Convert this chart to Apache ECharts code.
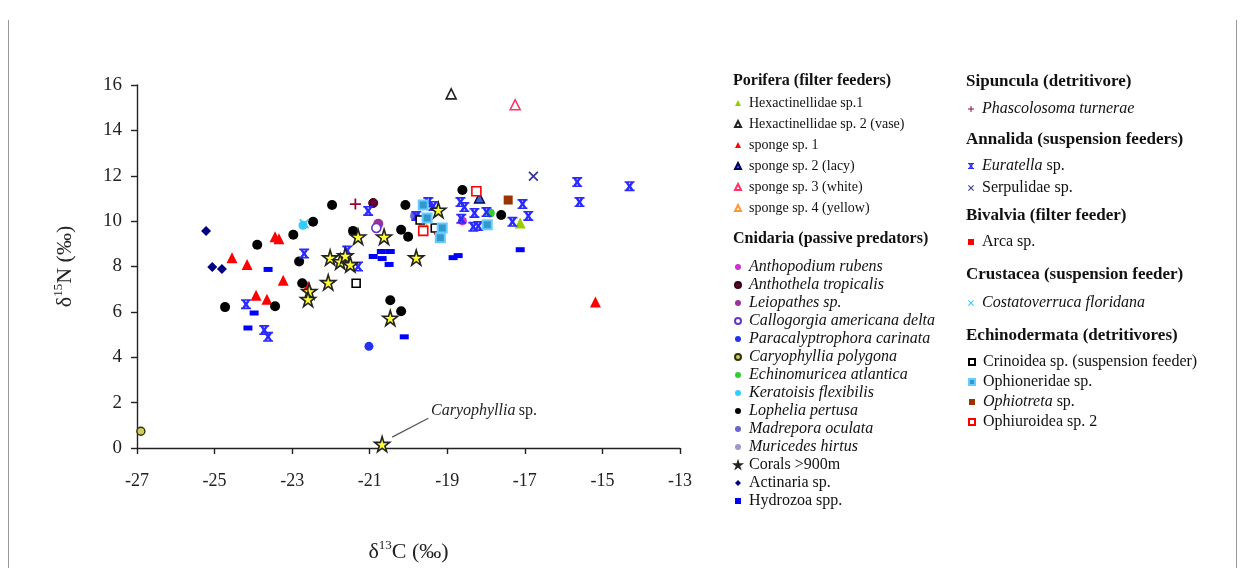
<!DOCTYPE html>
<html><head><meta charset="utf-8">
<script src="https://cdn.jsdelivr.net/npm/echarts@6/dist/echarts.min.js"></script>
<style>html,body{margin:0;padding:0;background:#fff}#c{width:1243px;height:568px}</style>
</head><body><div id="c"></div>
<script>
// ---- Data (δ13C, δ15N) ----
const hexSp1 = [[-17.12, 9.92]];
const hexSp2 = [[-18.90, 15.61]];
const sponge1 = [[-24.55, 8.39], [-24.16, 8.09], [-23.93, 6.73], [-23.65, 6.56], [-23.44, 9.31], [-23.34, 9.22], [-23.23, 7.39], [-22.59, 7.13], [-15.18, 6.43]];
const sponge2 = [[-18.17, 11.02]];
const sponge3 = [[-17.25, 15.13]];
const sponge4 = [[-19.62, 9.97]];
const anthopodium = [[-18.61, 10.01]];
const anthothela = [[-20.91, 10.80]];
const leiopathes = [[-20.78, 9.88]];
const callogorgia = [[-20.83, 9.70]];
const paracalyp = [[-21.02, 4.48]];
const caryPolygona = [[-26.90, 0.74]];
const echinomuricea = [[-17.89, 10.36]];
const keratoisis = [[-22.72, 9.82]];
const lophelia = [[-24.73, 6.21], [-23.90, 8.96], [-23.44, 6.25], [-22.97, 9.40], [-22.82, 8.22], [-22.74, 7.26], [-22.46, 9.97], [-21.97, 10.71], [-20.47, 6.51], [-20.19, 6.03], [-21.43, 9.57], [-20.08, 10.71], [-20.19, 9.62], [-20.01, 9.31], [-18.61, 11.37], [-17.61, 10.27]];
const madrepora = [[-19.83, 10.23]];
const muricedes = [];
const corals = [[-22.02, 8.39], [-21.76, 8.22], [-21.63, 8.48], [-21.50, 8.09], [-22.07, 7.30], [-22.56, 6.91], [-22.59, 6.56], [-19.80, 8.39], [-20.47, 5.73], [-20.68, 0.17], [-21.30, 9.31], [-20.63, 9.31], [-19.23, 10.49]];
const actinaria = [[-25.22, 9.57], [-25.06, 7.98], [-24.81, 7.89]];
const hydrozoa = [[-23.62, 7.87], [-23.98, 5.95], [-24.14, 5.29], [-20.91, 8.44], [-20.70, 8.66], [-20.47, 8.66], [-20.68, 8.35], [-20.50, 8.09], [-20.11, 4.90], [-18.85, 8.39], [-18.72, 8.48], [-17.12, 8.74]];
const phascolosoma = [[-21.37, 10.75]];
const euratella = [[-22.69, 8.57], [-24.19, 6.34], [-23.72, 5.20], [-23.62, 4.90], [-21.58, 8.70], [-21.30, 8.00], [-21.04, 10.45], [-19.80, 10.23], [-19.49, 10.84], [-19.36, 10.67], [-18.66, 10.84], [-18.56, 10.62], [-18.30, 10.36], [-17.99, 10.40], [-18.64, 10.10], [-18.33, 9.75], [-18.20, 9.79], [-17.32, 9.97], [-17.06, 10.75], [-16.91, 10.23], [-15.65, 11.72], [-15.59, 10.84], [-14.30, 11.54]];
const serpulidae = [[-16.78, 11.98]];
const arca = [[-19.23, 9.49]];
const costatoverruca = [[-22.69, 9.88]];
const crinoidea = [[-19.31, 9.70], [-19.70, 10.05], [-21.35, 7.26]];
const ophioneridae = [[-19.62, 10.71], [-19.52, 10.14], [-19.18, 9.27], [-17.97, 9.84], [-19.13, 9.70]];
const ophiotreta = [[-17.43, 10.93]];
const ophiuroidea2 = [[-19.62, 9.57], [-18.25, 11.32]];

const xTicks = [-27, -25, -23, -21, -19, -17, -15, -13];
const yTicks = [0, 2, 4, 6, 8, 10, 12, 14, 16];
const annotationLine = [[-20.42, 0.48], [-19.49, 1.31]];
const annotationText = [-19.42, 1.62];

const groupPorifera = ['Hexactinellidae sp.1', 'Hexactinellidae sp. 2 (vase)', 'sponge sp. 1', 'sponge sp. 2 (lacy)', 'sponge sp. 3 (white)', 'sponge sp. 4 (yellow)'];
const groupCnidaria = ['Anthopodium rubens', 'Anthothela tropicalis', 'Leiopathes sp.', 'Callogorgia americana delta', 'Paracalyptrophora carinata', 'Caryophyllia polygona', 'Echinomuricea atlantica', 'Keratoisis flexibilis', 'Lophelia pertusa', 'Madrepora oculata', 'Muricedes hirtus', 'Corals >900m', 'Actinaria sp.', 'Hydrozoa spp.'];
const groupSipuncula = ['Phascolosoma turnerae'];
const groupAnnalida = ['Euratella sp.', 'Serpulidae sp.'];
const groupBivalvia = ['Arca sp.'];
const groupCrustacea = ['Costatoverruca floridana'];
const groupEchino = ['Crinoidea sp. (suspension feeder)', 'Ophioneridae sp.', 'Ophiotreta sp.', 'Ophiuroidea sp. 2'];
const headers = ['Porifera (filter feeders)', 'Cnidaria (passive predators)', 'Sipuncula (detritivore)', 'Annalida (suspension feeders)', 'Bivalvia (filter feeder)', 'Crustacea (suspension feeder)', 'Echinodermata (detritivores)'];

// ---- Rendering ----
const SERIF = '"Liberation Serif", "DejaVu Serif", "Times New Roman", serif';
const STAR = 'path://M50,0 L61,35 L98,35 L68,57 L79,91 L50,70 L21,91 L32,57 L2,35 L39,35 Z';
const EUR = 'path://M0,0 L3,0 L5,3 L7,0 L10,0 L6.6,5 L10,10 L7,10 L5,7 L3,10 L0,10 L3.4,5 Z M0,0 H10 V1.6 H0 Z M0,8.4 H10 V10 H0 Z';
const XSYM = 'path://M1.2,0 L5,3.8 L8.8,0 L10,1.2 L6.2,5 L10,8.8 L8.8,10 L5,6.2 L1.2,10 L0,8.8 L3.8,5 L0,1.2 Z';
const PLUS = 'path://M4.2,0 H5.8 V4.2 H10 V5.8 H5.8 V10 H4.2 V5.8 H0 V4.2 H4.2 Z';

function S(name, data, symbol, size, fill, border, bw, z) {
  return {
    name, type: 'scatter', data, symbol, symbolSize: size, z: z || 2,
    itemStyle: { color: fill, borderColor: border || fill, borderWidth: bw || 0, opacity: 1 },
    emphasis: { disabled: true }
  };
}

const series = [
  S('Hexactinellidae sp.1', hexSp1, 'triangle', 11, '#99cc00'),
  S('Hexactinellidae sp. 2 (vase)', hexSp2, 'triangle', 10, '#ffffff', '#222222', 1.6),
  S('sponge sp. 1', sponge1, 'triangle', 11, '#ff0000'),
  S('sponge sp. 2 (lacy)', sponge2, 'triangle', 10, '#3366cc', '#000066', 1.4),
  S('sponge sp. 3 (white)', sponge3, 'triangle', 10, '#ffffff', '#ff3366', 1.6),
  S('sponge sp. 4 (yellow)', sponge4, 'triangle', 8, '#ffffff', '#ff9933', 1.5),
  S('Anthopodium rubens', anthopodium, 'circle', 9, '#cc33cc'),
  S('Anthothela tropicalis', anthothela, 'circle', 9, '#660033', '#330011', 1),
  S('Leiopathes sp.', leiopathes, 'circle', 10, '#993399'),
  S('Callogorgia americana delta', callogorgia, 'circle', 9, '#ffffff', '#6633cc', 1.6),
  S('Paracalyptrophora carinata', paracalyp, 'circle', 9, '#2233ee'),
  S('Caryophyllia polygona', caryPolygona, 'circle', 8, '#cccc66', '#333300', 1.4),
  S('Echinomuricea atlantica', echinomuricea, 'circle', 9, '#33cc33'),
  S('Keratoisis flexibilis', keratoisis, 'circle', 9, '#33ccff'),
  S('Lophelia pertusa', lophelia, 'circle', 10, '#000000'),
  S('Madrepora oculata', madrepora, 'circle', 10, '#6666cc'),
  S('Muricedes hirtus', muricedes, 'circle', 9, '#9999cc'),
  S('Actinaria sp.', actinaria, 'diamond', 10, '#000080'),
  S('Hydrozoa spp.', hydrozoa, 'rect', [9, 5], '#0000ff'),
  S('Phascolosoma turnerae', phascolosoma, PLUS, 11, '#990033'),
  S('Euratella sp.', euratella, EUR, 10, '#2b2bff'),
  S('Serpulidae sp.', serpulidae, XSYM, 10, '#333399'),
  S('Arca sp.', arca, 'rect', [9, 4], '#ff0000'),
  S('Costatoverruca floridana', costatoverruca, XSYM, 10, '#33ccff'),
  S('Crinoidea sp. (suspension feeder)', crinoidea, 'rect', 8, '#ffffff', '#000000', 1.6, 3),
  S('Ophioneridae sp.', ophioneridae, 'rect', 9, '#3399cc', '#66ccff', 2, 3),
  S('Ophiotreta sp.', ophiotreta, 'rect', 9, '#993300'),
  S('Ophiuroidea sp. 2', ophiuroidea2, 'rect', 9, '#ffffff', '#ff0000', 1.6, 3)
];
const coralSeries = S('Corals >900m', corals, STAR, 15, '#ffff33', '#222222', 1.6, 5);
coralSeries.markLine = {
  silent: true, symbol: ['none', 'none'], animation: false,
  lineStyle: { color: '#555555', width: 1.2, type: 'solid' },
  label: { show: false },
  data: [[{ coord: annotationLine[0] }, { coord: annotationLine[1] }]]
};
coralSeries.markPoint = {
  silent: true, symbol: 'circle', symbolSize: 0, animation: false,
  label: {
    show: true, position: 'right', distance: 0,
    formatter: '{i|Caryophyllia} {n|sp.}',
    rich: {
      i: { fontFamily: SERIF, fontSize: 16, fontStyle: 'italic', color: '#222' },
      n: { fontFamily: SERIF, fontSize: 16, color: '#222' }
    }
  },
  data: [{ coord: annotationText }]
};
series.splice(17, 0, coralSeries);

const italicFull = new Set(['Anthopodium rubens', 'Anthothela tropicalis', 'Leiopathes sp.', 'Callogorgia americana delta', 'Paracalyptrophora carinata', 'Caryophyllia polygona', 'Echinomuricea atlantica', 'Keratoisis flexibilis', 'Lophelia pertusa', 'Madrepora oculata', 'Muricedes hirtus', 'Phascolosoma turnerae', 'Costatoverruca floridana']);
const italicGenus = new Set(['Euratella sp.', 'Ophiotreta sp.']);
function fmt(name) {
  if (italicFull.has(name)) return '{i|' + name + '}';
  if (italicGenus.has(name)) { const p = name.split(' '); return '{i|' + p[0] + '} ' + p.slice(1).join(' '); }
  return name;
}
function L(names, left, top, gap, fs) {
  return {
    orient: 'vertical', left, top, itemWidth: 6, itemHeight: 6, itemGap: gap,
    selectedMode: false, data: names, formatter: fmt, padding: 0,
    textStyle: {
      fontFamily: SERIF, fontSize: fs, color: '#111', lineHeight: 14, padding: [0, 0, 0, 3],
      rich: { i: { fontFamily: SERIF, fontSize: fs, fontStyle: 'italic', color: '#111', lineHeight: 14 } }
    }
  };
}
const hdrPos = [[733, 82, 16], [733, 240, 16], [966, 82, 17], [966, 140, 17], [966, 216, 17], [966, 275, 17], [966, 336, 17]];

const chart = echarts.init(document.getElementById('c'), null, { renderer: 'canvas' });
chart.setOption({
  animation: false,
  backgroundColor: '#ffffff',
  grid: { left: 137, right: 563, top: 85, bottom: 117, containLabel: false },
  xAxis: {
    type: 'value', min: xTicks[0], max: xTicks[xTicks.length - 1], interval: 2,
    name: '{a|δ}{s|13}{a|C (‰)}', nameLocation: 'middle', nameGap: 91,
    nameTextStyle: { rich: {
      a: { fontFamily: SERIF, fontSize: 22, color: '#222', lineHeight: 26 },
      s: { fontFamily: SERIF, fontSize: 13, color: '#222', verticalAlign: 'top', lineHeight: 26 }
    } },
    axisLine: { lineStyle: { color: '#222', width: 1.4 } },
    axisTick: { inside: false, length: 6, lineStyle: { color: '#222', width: 1.4 } },
    axisLabel: { fontFamily: SERIF, fontSize: 18, color: '#222', margin: 24 },
    splitLine: { show: false }
  },
  yAxis: {
    type: 'value', min: yTicks[0], max: yTicks[yTicks.length - 1], interval: 2,
    name: '{a|δ}{s|15}{a|N (‰)}', nameLocation: 'middle', nameGap: 59, nameRotate: 90,
    nameTextStyle: { rich: {
      a: { fontFamily: SERIF, fontSize: 22, color: '#222', lineHeight: 26 },
      s: { fontFamily: SERIF, fontSize: 13, color: '#222', verticalAlign: 'top', lineHeight: 26 }
    } },
    axisLine: { show: true, lineStyle: { color: '#222', width: 1.4 } },
    axisTick: { show: true, inside: false, length: 6, lineStyle: { color: '#222', width: 1.4 } },
    axisLabel: { fontFamily: SERIF, fontSize: 19, color: '#222', margin: 15 },
    splitLine: { show: false }
  },
  legend: [
    L(groupPorifera, 734, 96, 7, 14),
    L(groupCnidaria, 734, 259, 2, 16),
    L(groupSipuncula, 968, 101, 3, 16),
    L(groupAnnalida, 968, 158, 6, 16),
    L(groupBivalvia, 968, 234, 3, 16),
    L(groupCrustacea, 968, 295, 3, 16),
    L(groupEchino, 968, 354, 4, 16)
  ],
  graphic: headers.map((h, k) => ({
    type: 'text', left: hdrPos[k][0], top: hdrPos[k][1] - 9, silent: true,
    style: { text: h, font: 'bold ' + hdrPos[k][2] + 'px ' + SERIF, fill: '#111' }
  })).concat([
    { type: 'line', silent: true, shape: { x1: 8.5, y1: 20, x2: 8.5, y2: 568 }, style: { stroke: '#999', lineWidth: 1 } },
    { type: 'line', silent: true, shape: { x1: 1236.5, y1: 20, x2: 1236.5, y2: 568 }, style: { stroke: '#999', lineWidth: 1 } }
  ]),
  series
});
</script></body></html>
